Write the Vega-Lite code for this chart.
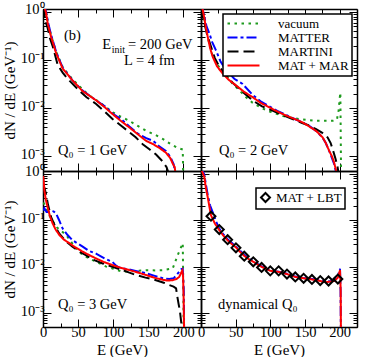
{
"$schema":"https://vega.github.io/schema/vega-lite/v6.json",
"padding":{"left":2,"top":1,"right":5,"bottom":0},
"datasets":{
"curves":[
{"p":1,"m":"vacuum","E":1,"v":1.4},{"p":1,"m":"vacuum","E":2,"v":1.25},{"p":1,"m":"vacuum","E":4.5,"v":0.95},{"p":1,"m":"vacuum","E":7,"v":0.6},{"p":1,"m":"vacuum","E":11.4,"v":0.33},{"p":1,"m":"vacuum","E":18.6,"v":0.15},{"p":1,"m":"vacuum","E":28,"v":0.072},{"p":1,"m":"vacuum","E":42,"v":0.04},{"p":1,"m":"vacuum","E":56,"v":0.025},{"p":1,"m":"vacuum","E":66,"v":0.0185},{"p":1,"m":"vacuum","E":80,"v":0.0135},{"p":1,"m":"vacuum","E":99,"v":0.0083},{"p":1,"m":"vacuum","E":110,"v":0.0068},{"p":1,"m":"vacuum","E":123,"v":0.0055},{"p":1,"m":"vacuum","E":135,"v":0.0043},{"p":1,"m":"vacuum","E":147,"v":0.0034},{"p":1,"m":"vacuum","E":160,"v":0.0028},{"p":1,"m":"vacuum","E":171,"v":0.0023},{"p":1,"m":"vacuum","E":182,"v":0.0018},{"p":1,"m":"vacuum","E":192,"v":0.0015},{"p":1,"m":"vacuum","E":199,"v":0.0014},{"p":1,"m":"vacuum","E":200.5,"v":0.0001},
{"p":1,"m":"MATTER","E":1,"v":1.4},{"p":1,"m":"MATTER","E":2,"v":1.3},{"p":1,"m":"MATTER","E":4.5,"v":1.0},{"p":1,"m":"MATTER","E":7,"v":0.62},{"p":1,"m":"MATTER","E":11.4,"v":0.34},{"p":1,"m":"MATTER","E":18.6,"v":0.15},{"p":1,"m":"MATTER","E":28,"v":0.07},{"p":1,"m":"MATTER","E":42,"v":0.038},{"p":1,"m":"MATTER","E":56,"v":0.0235},{"p":1,"m":"MATTER","E":76,"v":0.0145},{"p":1,"m":"MATTER","E":90,"v":0.0105},{"p":1,"m":"MATTER","E":99,"v":0.0078},{"p":1,"m":"MATTER","E":105,"v":0.0068},{"p":1,"m":"MATTER","E":110,"v":0.0062},{"p":1,"m":"MATTER","E":123,"v":0.0042},{"p":1,"m":"MATTER","E":135,"v":0.003},{"p":1,"m":"MATTER","E":147,"v":0.0024},{"p":1,"m":"MATTER","E":157,"v":0.0021},{"p":1,"m":"MATTER","E":166,"v":0.0016},{"p":1,"m":"MATTER","E":175,"v":0.0013},{"p":1,"m":"MATTER","E":181,"v":0.001},{"p":1,"m":"MATTER","E":186,"v":0.0007},{"p":1,"m":"MATTER","E":189,"v":0.0004},{"p":1,"m":"MATTER","E":190,"v":0.0001},
{"p":1,"m":"MARTINI","E":1,"v":1.3},{"p":1,"m":"MARTINI","E":2,"v":0.9},{"p":1,"m":"MARTINI","E":4,"v":0.6},{"p":1,"m":"MARTINI","E":6.7,"v":0.46},{"p":1,"m":"MARTINI","E":10,"v":0.28},{"p":1,"m":"MARTINI","E":14,"v":0.19},{"p":1,"m":"MARTINI","E":21,"v":0.079},{"p":1,"m":"MARTINI","E":28,"v":0.055},{"p":1,"m":"MARTINI","E":35,"v":0.041},{"p":1,"m":"MARTINI","E":52,"v":0.023},{"p":1,"m":"MARTINI","E":62,"v":0.017},{"p":1,"m":"MARTINI","E":75.7,"v":0.0123},{"p":1,"m":"MARTINI","E":88,"v":0.0085},{"p":1,"m":"MARTINI","E":99,"v":0.006},{"p":1,"m":"MARTINI","E":110,"v":0.0045},{"p":1,"m":"MARTINI","E":123,"v":0.0032},{"p":1,"m":"MARTINI","E":132,"v":0.0025},{"p":1,"m":"MARTINI","E":142,"v":0.0018},{"p":1,"m":"MARTINI","E":152,"v":0.0014},{"p":1,"m":"MARTINI","E":161,"v":0.0011},{"p":1,"m":"MARTINI","E":170,"v":0.0008},{"p":1,"m":"MARTINI","E":176,"v":0.0006},{"p":1,"m":"MARTINI","E":180,"v":0.0004},{"p":1,"m":"MARTINI","E":182,"v":0.0001},
{"p":1,"m":"MAT + MAR","E":1,"v":1.4},{"p":1,"m":"MAT + MAR","E":2,"v":1.3},{"p":1,"m":"MAT + MAR","E":4.3,"v":0.95},{"p":1,"m":"MAT + MAR","E":7,"v":0.55},{"p":1,"m":"MAT + MAR","E":11.4,"v":0.31},{"p":1,"m":"MAT + MAR","E":18.6,"v":0.14},{"p":1,"m":"MAT + MAR","E":28,"v":0.067},{"p":1,"m":"MAT + MAR","E":42,"v":0.038},{"p":1,"m":"MAT + MAR","E":56,"v":0.023},{"p":1,"m":"MAT + MAR","E":76,"v":0.0145},{"p":1,"m":"MAT + MAR","E":88,"v":0.0105},{"p":1,"m":"MAT + MAR","E":99,"v":0.0076},{"p":1,"m":"MAT + MAR","E":110,"v":0.0056},{"p":1,"m":"MAT + MAR","E":123,"v":0.004},{"p":1,"m":"MAT + MAR","E":135,"v":0.0029},{"p":1,"m":"MAT + MAR","E":147,"v":0.0021},{"p":1,"m":"MAT + MAR","E":157,"v":0.0018},{"p":1,"m":"MAT + MAR","E":166,"v":0.0015},{"p":1,"m":"MAT + MAR","E":175,"v":0.0012},{"p":1,"m":"MAT + MAR","E":181,"v":0.00094},{"p":1,"m":"MAT + MAR","E":185,"v":0.0007},{"p":1,"m":"MAT + MAR","E":187.6,"v":0.0006},{"p":1,"m":"MAT + MAR","E":189,"v":0.0004},{"p":1,"m":"MAT + MAR","E":190,"v":0.0001},

{"p":2,"m":"vacuum","E":1,"v":1.4},{"p":2,"m":"vacuum","E":2,"v":1.2},{"p":2,"m":"vacuum","E":4.8,"v":0.7},{"p":2,"m":"vacuum","E":9.6,"v":0.3},{"p":2,"m":"vacuum","E":16.8,"v":0.12},{"p":2,"m":"vacuum","E":25,"v":0.075},{"p":2,"m":"vacuum","E":36,"v":0.05},{"p":2,"m":"vacuum","E":45,"v":0.033},{"p":2,"m":"vacuum","E":55,"v":0.024},{"p":2,"m":"vacuum","E":65,"v":0.017},{"p":2,"m":"vacuum","E":74.5,"v":0.013},{"p":2,"m":"vacuum","E":88,"v":0.01},{"p":2,"m":"vacuum","E":100,"v":0.0085},{"p":2,"m":"vacuum","E":120,"v":0.0068},{"p":2,"m":"vacuum","E":141.6,"v":0.006},{"p":2,"m":"vacuum","E":166,"v":0.0055},{"p":2,"m":"vacuum","E":190,"v":0.0055},{"p":2,"m":"vacuum","E":196,"v":0.0058},{"p":2,"m":"vacuum","E":198.5,"v":0.009},{"p":2,"m":"vacuum","E":200,"v":0.016},{"p":2,"m":"vacuum","E":201,"v":0.021},{"p":2,"m":"vacuum","E":201.8,"v":0.001},{"p":2,"m":"vacuum","E":202.2,"v":0.0001},
{"p":2,"m":"MATTER","E":1,"v":1.4},{"p":2,"m":"MATTER","E":2,"v":1.2},{"p":2,"m":"MATTER","E":4.8,"v":0.8},{"p":2,"m":"MATTER","E":8,"v":0.5},{"p":2,"m":"MATTER","E":12,"v":0.36},{"p":2,"m":"MATTER","E":16,"v":0.24},{"p":2,"m":"MATTER","E":21.6,"v":0.16},{"p":2,"m":"MATTER","E":28,"v":0.095},{"p":2,"m":"MATTER","E":36,"v":0.062},{"p":2,"m":"MATTER","E":48,"v":0.041},{"p":2,"m":"MATTER","E":60,"v":0.032},{"p":2,"m":"MATTER","E":74.5,"v":0.019},{"p":2,"m":"MATTER","E":86,"v":0.014},{"p":2,"m":"MATTER","E":98.5,"v":0.011},{"p":2,"m":"MATTER","E":110,"v":0.0088},{"p":2,"m":"MATTER","E":122.5,"v":0.0073},{"p":2,"m":"MATTER","E":135,"v":0.006},{"p":2,"m":"MATTER","E":146.5,"v":0.0051},{"p":2,"m":"MATTER","E":156,"v":0.0043},{"p":2,"m":"MATTER","E":166,"v":0.0034},{"p":2,"m":"MATTER","E":175,"v":0.0025},{"p":2,"m":"MATTER","E":180,"v":0.0019},{"p":2,"m":"MATTER","E":185,"v":0.0013},{"p":2,"m":"MATTER","E":192,"v":0.0007},{"p":2,"m":"MATTER","E":196,"v":0.0004},{"p":2,"m":"MATTER","E":198,"v":0.0001},
{"p":2,"m":"MARTINI","E":1,"v":1.2},{"p":2,"m":"MARTINI","E":2,"v":0.9},{"p":2,"m":"MARTINI","E":4.8,"v":0.59},{"p":2,"m":"MARTINI","E":9,"v":0.33},{"p":2,"m":"MARTINI","E":14.4,"v":0.19},{"p":2,"m":"MARTINI","E":20,"v":0.11},{"p":2,"m":"MARTINI","E":26.4,"v":0.073},{"p":2,"m":"MARTINI","E":35,"v":0.05},{"p":2,"m":"MARTINI","E":45.6,"v":0.034},{"p":2,"m":"MARTINI","E":60,"v":0.022},{"p":2,"m":"MARTINI","E":74.5,"v":0.0145},{"p":2,"m":"MARTINI","E":88,"v":0.011},{"p":2,"m":"MARTINI","E":103,"v":0.009},{"p":2,"m":"MARTINI","E":117,"v":0.0073},{"p":2,"m":"MARTINI","E":132,"v":0.006},{"p":2,"m":"MARTINI","E":145,"v":0.005},{"p":2,"m":"MARTINI","E":156,"v":0.0044},{"p":2,"m":"MARTINI","E":166,"v":0.0037},{"p":2,"m":"MARTINI","E":175,"v":0.0031},{"p":2,"m":"MARTINI","E":182.5,"v":0.0025},{"p":2,"m":"MARTINI","E":187,"v":0.0019},{"p":2,"m":"MARTINI","E":190,"v":0.0014},{"p":2,"m":"MARTINI","E":194,"v":0.0009},{"p":2,"m":"MARTINI","E":197,"v":0.0006},{"p":2,"m":"MARTINI","E":199,"v":0.0004},{"p":2,"m":"MARTINI","E":200,"v":0.0001},
{"p":2,"m":"MAT + MAR","E":1,"v":1.4},{"p":2,"m":"MAT + MAR","E":2,"v":1.2},{"p":2,"m":"MAT + MAR","E":4.8,"v":0.75},{"p":2,"m":"MAT + MAR","E":7,"v":0.48},{"p":2,"m":"MAT + MAR","E":9.6,"v":0.31},{"p":2,"m":"MAT + MAR","E":13,"v":0.18},{"p":2,"m":"MAT + MAR","E":16.8,"v":0.118},{"p":2,"m":"MAT + MAR","E":23,"v":0.075},{"p":2,"m":"MAT + MAR","E":31,"v":0.053},{"p":2,"m":"MAT + MAR","E":40,"v":0.039},{"p":2,"m":"MAT + MAR","E":50.4,"v":0.03},{"p":2,"m":"MAT + MAR","E":62,"v":0.022},{"p":2,"m":"MAT + MAR","E":74.5,"v":0.017},{"p":2,"m":"MAT + MAR","E":86,"v":0.013},{"p":2,"m":"MAT + MAR","E":98.5,"v":0.0105},{"p":2,"m":"MAT + MAR","E":110,"v":0.0086},{"p":2,"m":"MAT + MAR","E":122.5,"v":0.0071},{"p":2,"m":"MAT + MAR","E":135,"v":0.006},{"p":2,"m":"MAT + MAR","E":146.5,"v":0.0051},{"p":2,"m":"MAT + MAR","E":156,"v":0.0042},{"p":2,"m":"MAT + MAR","E":166,"v":0.0034},{"p":2,"m":"MAT + MAR","E":175.4,"v":0.0025},{"p":2,"m":"MAT + MAR","E":180,"v":0.0019},{"p":2,"m":"MAT + MAR","E":185,"v":0.0013},{"p":2,"m":"MAT + MAR","E":189,"v":0.001},{"p":2,"m":"MAT + MAR","E":192,"v":0.00075},{"p":2,"m":"MAT + MAR","E":195,"v":0.0005},{"p":2,"m":"MAT + MAR","E":197,"v":0.0004},{"p":2,"m":"MAT + MAR","E":198,"v":0.0001},

{"p":3,"m":"vacuum","E":0.3,"v":0.24},{"p":3,"m":"vacuum","E":2,"v":0.22},{"p":3,"m":"vacuum","E":5,"v":0.17},{"p":3,"m":"vacuum","E":11,"v":0.11},{"p":3,"m":"vacuum","E":20,"v":0.07},{"p":3,"m":"vacuum","E":33,"v":0.048},{"p":3,"m":"vacuum","E":45,"v":0.027},{"p":3,"m":"vacuum","E":56.5,"v":0.0177},{"p":3,"m":"vacuum","E":70,"v":0.014},{"p":3,"m":"vacuum","E":90,"v":0.01},{"p":3,"m":"vacuum","E":100,"v":0.009},{"p":3,"m":"vacuum","E":113.5,"v":0.0078},{"p":3,"m":"vacuum","E":130,"v":0.008},{"p":3,"m":"vacuum","E":146.7,"v":0.0084},{"p":3,"m":"vacuum","E":160,"v":0.0083},{"p":3,"m":"vacuum","E":170.5,"v":0.0084},{"p":3,"m":"vacuum","E":184.7,"v":0.0091},{"p":3,"m":"vacuum","E":192,"v":0.018},{"p":3,"m":"vacuum","E":196,"v":0.025},{"p":3,"m":"vacuum","E":199,"v":0.032},{"p":3,"m":"vacuum","E":200,"v":0.002},{"p":3,"m":"vacuum","E":200.5,"v":0.0001},
{"p":3,"m":"MATTER","E":1,"v":0.16},{"p":3,"m":"MATTER","E":2,"v":0.18},{"p":3,"m":"MATTER","E":5,"v":0.15},{"p":3,"m":"MATTER","E":8,"v":0.15},{"p":3,"m":"MATTER","E":11.4,"v":0.16},{"p":3,"m":"MATTER","E":15,"v":0.155},{"p":3,"m":"MATTER","E":18.5,"v":0.14},{"p":3,"m":"MATTER","E":23,"v":0.1},{"p":3,"m":"MATTER","E":28,"v":0.066},{"p":3,"m":"MATTER","E":35,"v":0.048},{"p":3,"m":"MATTER","E":42,"v":0.037},{"p":3,"m":"MATTER","E":56.5,"v":0.027},{"p":3,"m":"MATTER","E":65,"v":0.022},{"p":3,"m":"MATTER","E":75.5,"v":0.019},{"p":3,"m":"MATTER","E":88,"v":0.015},{"p":3,"m":"MATTER","E":99,"v":0.0126},{"p":3,"m":"MATTER","E":104,"v":0.0105},{"p":3,"m":"MATTER","E":107,"v":0.0098},{"p":3,"m":"MATTER","E":112,"v":0.0092},{"p":3,"m":"MATTER","E":123,"v":0.0087},{"p":3,"m":"MATTER","E":135,"v":0.0079},{"p":3,"m":"MATTER","E":146.7,"v":0.0072},{"p":3,"m":"MATTER","E":158,"v":0.0064},{"p":3,"m":"MATTER","E":170.5,"v":0.0056},{"p":3,"m":"MATTER","E":180,"v":0.0054},{"p":3,"m":"MATTER","E":186,"v":0.0056},{"p":3,"m":"MATTER","E":191,"v":0.0068},{"p":3,"m":"MATTER","E":194,"v":0.0078},{"p":3,"m":"MATTER","E":197,"v":0.0088},{"p":3,"m":"MATTER","E":199,"v":0.009},{"p":3,"m":"MATTER","E":200.5,"v":0.003},{"p":3,"m":"MATTER","E":201.3,"v":0.0001},
{"p":3,"m":"MARTINI","E":0.3,"v":0.6},{"p":3,"m":"MARTINI","E":2,"v":0.5},{"p":3,"m":"MARTINI","E":4.3,"v":0.37},{"p":3,"m":"MARTINI","E":7,"v":0.22},{"p":3,"m":"MARTINI","E":11.4,"v":0.118},{"p":3,"m":"MARTINI","E":17,"v":0.075},{"p":3,"m":"MARTINI","E":23,"v":0.052},{"p":3,"m":"MARTINI","E":32,"v":0.036},{"p":3,"m":"MARTINI","E":42,"v":0.027},{"p":3,"m":"MARTINI","E":52,"v":0.021},{"p":3,"m":"MARTINI","E":61,"v":0.0177},{"p":3,"m":"MARTINI","E":72,"v":0.014},{"p":3,"m":"MARTINI","E":85,"v":0.0117},{"p":3,"m":"MARTINI","E":100,"v":0.0098},{"p":3,"m":"MARTINI","E":113.5,"v":0.0084},{"p":3,"m":"MARTINI","E":122,"v":0.0075},{"p":3,"m":"MARTINI","E":132.5,"v":0.0066},{"p":3,"m":"MARTINI","E":146,"v":0.0058},{"p":3,"m":"MARTINI","E":161,"v":0.0051},{"p":3,"m":"MARTINI","E":172,"v":0.0045},{"p":3,"m":"MARTINI","E":180,"v":0.004},{"p":3,"m":"MARTINI","E":186,"v":0.0037},{"p":3,"m":"MARTINI","E":189.5,"v":0.0034},{"p":3,"m":"MARTINI","E":191,"v":0.0024},{"p":3,"m":"MARTINI","E":193,"v":0.0016},{"p":3,"m":"MARTINI","E":195,"v":0.0011},{"p":3,"m":"MARTINI","E":197,"v":0.0006},{"p":3,"m":"MARTINI","E":198,"v":0.0001},
{"p":3,"m":"MAT + MAR","E":0.3,"v":0.9},{"p":3,"m":"MAT + MAR","E":1,"v":0.7},{"p":3,"m":"MAT + MAR","E":1.9,"v":0.44},{"p":3,"m":"MAT + MAR","E":4,"v":0.28},{"p":3,"m":"MAT + MAR","E":6.6,"v":0.19},{"p":3,"m":"MAT + MAR","E":10,"v":0.12},{"p":3,"m":"MAT + MAR","E":13.8,"v":0.085},{"p":3,"m":"MAT + MAR","E":18,"v":0.063},{"p":3,"m":"MAT + MAR","E":23.3,"v":0.048},{"p":3,"m":"MAT + MAR","E":30,"v":0.038},{"p":3,"m":"MAT + MAR","E":37.5,"v":0.032},{"p":3,"m":"MAT + MAR","E":46,"v":0.026},{"p":3,"m":"MAT + MAR","E":56.5,"v":0.021},{"p":3,"m":"MAT + MAR","E":65,"v":0.018},{"p":3,"m":"MAT + MAR","E":75.5,"v":0.015},{"p":3,"m":"MAT + MAR","E":87,"v":0.0125},{"p":3,"m":"MAT + MAR","E":99,"v":0.0108},{"p":3,"m":"MAT + MAR","E":110,"v":0.0095},{"p":3,"m":"MAT + MAR","E":123,"v":0.0084},{"p":3,"m":"MAT + MAR","E":135,"v":0.0075},{"p":3,"m":"MAT + MAR","E":146.7,"v":0.0066},{"p":3,"m":"MAT + MAR","E":158,"v":0.0058},{"p":3,"m":"MAT + MAR","E":170.5,"v":0.0052},{"p":3,"m":"MAT + MAR","E":178,"v":0.005},{"p":3,"m":"MAT + MAR","E":184.7,"v":0.0051},{"p":3,"m":"MAT + MAR","E":190,"v":0.0054},{"p":3,"m":"MAT + MAR","E":194,"v":0.006},{"p":3,"m":"MAT + MAR","E":197,"v":0.0075},{"p":3,"m":"MAT + MAR","E":198.5,"v":0.0083},{"p":3,"m":"MAT + MAR","E":199.5,"v":0.006},{"p":3,"m":"MAT + MAR","E":200.3,"v":0.002},{"p":3,"m":"MAT + MAR","E":201,"v":0.0003},{"p":3,"m":"MAT + MAR","E":201.5,"v":0.0001},

{"p":4,"m":"MATTER","E":0.5,"v":1.4},{"p":4,"m":"MATTER","E":2,"v":1.2},{"p":4,"m":"MATTER","E":4.8,"v":0.95},{"p":4,"m":"MATTER","E":7,"v":0.6},{"p":4,"m":"MATTER","E":9.6,"v":0.36},{"p":4,"m":"MATTER","E":13,"v":0.21},{"p":4,"m":"MATTER","E":16.8,"v":0.15},{"p":4,"m":"MATTER","E":21,"v":0.1},{"p":4,"m":"MATTER","E":26.4,"v":0.066},{"p":4,"m":"MATTER","E":32,"v":0.05},{"p":4,"m":"MATTER","E":38.4,"v":0.039},{"p":4,"m":"MATTER","E":50.4,"v":0.027},{"p":4,"m":"MATTER","E":62.4,"v":0.018},{"p":4,"m":"MATTER","E":75.4,"v":0.013},{"p":4,"m":"MATTER","E":87.4,"v":0.0101},{"p":4,"m":"MATTER","E":99.9,"v":0.0083},{"p":4,"m":"MATTER","E":112,"v":0.0078},{"p":4,"m":"MATTER","E":124,"v":0.007},{"p":4,"m":"MATTER","E":136,"v":0.0061},{"p":4,"m":"MATTER","E":148,"v":0.0057},{"p":4,"m":"MATTER","E":160,"v":0.0054},{"p":4,"m":"MATTER","E":172,"v":0.005},{"p":4,"m":"MATTER","E":184,"v":0.0048},{"p":4,"m":"MATTER","E":192,"v":0.005},{"p":4,"m":"MATTER","E":197,"v":0.006},{"p":4,"m":"MATTER","E":200.5,"v":0.009},{"p":4,"m":"MATTER","E":201.3,"v":0.003},{"p":4,"m":"MATTER","E":202,"v":0.0001},
{"p":4,"m":"MAT + MAR","E":0.5,"v":1.3},{"p":4,"m":"MAT + MAR","E":2,"v":1.1},{"p":4,"m":"MAT + MAR","E":4.8,"v":0.85},{"p":4,"m":"MAT + MAR","E":7,"v":0.5},{"p":4,"m":"MAT + MAR","E":9.6,"v":0.32},{"p":4,"m":"MAT + MAR","E":12,"v":0.2},{"p":4,"m":"MAT + MAR","E":14.4,"v":0.128},{"p":4,"m":"MAT + MAR","E":20,"v":0.085},{"p":4,"m":"MAT + MAR","E":26.4,"v":0.061},{"p":4,"m":"MAT + MAR","E":32,"v":0.047},{"p":4,"m":"MAT + MAR","E":38.4,"v":0.037},{"p":4,"m":"MAT + MAR","E":44,"v":0.031},{"p":4,"m":"MAT + MAR","E":50.4,"v":0.026},{"p":4,"m":"MAT + MAR","E":56,"v":0.021},{"p":4,"m":"MAT + MAR","E":62.4,"v":0.017},{"p":4,"m":"MAT + MAR","E":69,"v":0.0145},{"p":4,"m":"MAT + MAR","E":75.4,"v":0.0127},{"p":4,"m":"MAT + MAR","E":87.4,"v":0.0099},{"p":4,"m":"MAT + MAR","E":99.9,"v":0.0081},{"p":4,"m":"MAT + MAR","E":112,"v":0.0077},{"p":4,"m":"MAT + MAR","E":124,"v":0.0069},{"p":4,"m":"MAT + MAR","E":136,"v":0.006},{"p":4,"m":"MAT + MAR","E":148,"v":0.0056},{"p":4,"m":"MAT + MAR","E":160,"v":0.0053},{"p":4,"m":"MAT + MAR","E":172,"v":0.0049},{"p":4,"m":"MAT + MAR","E":180,"v":0.0046},{"p":4,"m":"MAT + MAR","E":184,"v":0.0047},{"p":4,"m":"MAT + MAR","E":192,"v":0.0049},{"p":4,"m":"MAT + MAR","E":197.4,"v":0.0058},{"p":4,"m":"MAT + MAR","E":200.5,"v":0.0084},{"p":4,"m":"MAT + MAR","E":201.5,"v":0.003},{"p":4,"m":"MAT + MAR","E":202,"v":0.0001}
],
"lbt":[
{"s":"MAT + LBT","E":14.4,"v":0.122},{"s":"MAT + LBT","E":26.4,"v":0.063},{"s":"MAT + LBT","E":38.4,"v":0.038},{"s":"MAT + LBT","E":50.4,"v":0.0254},{"s":"MAT + LBT","E":62.4,"v":0.0168},{"s":"MAT + LBT","E":75.4,"v":0.0127},{"s":"MAT + LBT","E":87.4,"v":0.0096},{"s":"MAT + LBT","E":99.9,"v":0.0081},{"s":"MAT + LBT","E":112,"v":0.0081},{"s":"MAT + LBT","E":124,"v":0.0069},{"s":"MAT + LBT","E":136,"v":0.006},{"s":"MAT + LBT","E":148,"v":0.0056},{"s":"MAT + LBT","E":160,"v":0.0053},{"s":"MAT + LBT","E":172,"v":0.005},{"s":"MAT + LBT","E":184,"v":0.0049},{"s":"MAT + LBT","E":197.4,"v":0.0054}
],
"notes":[
{"p":1,"t":"(b)","E":29.9,"v":0.314},
{"p":1,"t":"= 200 GeV","E":121.1,"v":0.203},
{"p":1,"t":"L = 4 fm","E":115.4,"v":0.094},
{"p":1,"t":"Q₀ = 1 GeV","E":21.4,"v":0.00128},
{"p":2,"t":"Q₀ = 2 GeV","E":25.9,"v":0.00128},
{"p":3,"t":"Q₀ = 3 GeV","E":21.4,"v":0.00149},
{"p":4,"t":"dynamical Q₀","E":24.5,"v":0.00149}
],
"einit":[{"E":121.1,"v":0.203,"a":"E","b":"init"}]
},
"concat":[
{
"width":158,"height":162,
"layer":[
{"data":{"name":"curves"},"transform":[{"filter":"datum.p === 1"}],
 "mark":{"type":"line","clip":true,"strokeWidth":2},
 "encoding":{
  "x":{"field":"E","type":"quantitative","scale":{"domain":[0,225],"nice":false,"zero":false},
   "axis":{"orient":"bottom","values":[0,25,50,75,100,125,150,175,200,225],"tickSize":{"condition":{"test":"datum.value % 50 === 0","value":-8},"value":-4},"labels":false,"title":null}},
  "y":{"field":"v","type":"quantitative","scale":{"type":"log","domain":[0.0005,1.15],"nice":false},
   "axis":{"orient":"left","values":[0.0005,0.0006,0.0007,0.0008,0.0009,0.001,0.002,0.003,0.004,0.005,0.006,0.007,0.008,0.009,0.01,0.02,0.03,0.04,0.05,0.06,0.07,0.08,0.09,0.1,0.2,0.3,0.4,0.5,0.6,0.7,0.8,0.9,1],
    "tickSize":{"condition":{"test":"datum.value === 1 || datum.value === 0.1 || datum.value === 0.01 || datum.value === 0.001","value":-8},"value":-4},
    "labelExpr":"datum.value === 1 ? '10⁰' : datum.value === 0.1 ? '10⁻¹' : datum.value === 0.01 ? '10⁻²' : datum.value === 0.001 ? '10⁻³' : ''","labelPadding":7,"labelOffset":-2,"title":"dN / dE (GeV⁻¹)","titlePadding":3}},
  "color":{"field":"m","type":"nominal","scale":{"domain":["vacuum","MATTER","MARTINI","MAT + MAR"],"range":["#1e9a1e","#0000ff","#000000","#ff0000"]},"legend":null},
  "strokeDash":{"field":"m","type":"nominal","scale":{"domain":["vacuum","MATTER","MARTINI","MAT + MAR"],"range":[[2.5,4.5],[10,3,3,3],[11,5],[1,0]]},"legend":null}
 }},
{"data":{"name":"notes"},"transform":[{"filter":"datum.p === 1"}],
 "mark":{"type":"text","align":"left","baseline":"middle","fontSize":14.5,"font":"Liberation Serif"},
 "encoding":{
  "x":{"field":"E","type":"quantitative","axis":{"orient":"top","values":[0,25,50,75,100,125,150,175,200,225],"tickSize":{"condition":{"test":"datum.value % 50 === 0","value":-8},"value":-4},"labels":false,"title":null}},
  "y":{"field":"v","type":"quantitative","axis":{"orient":"right","values":[0.0005,0.0006,0.0007,0.0008,0.0009,0.001,0.002,0.003,0.004,0.005,0.006,0.007,0.008,0.009,0.01,0.02,0.03,0.04,0.05,0.06,0.07,0.08,0.09,0.1,0.2,0.3,0.4,0.5,0.6,0.7,0.8,0.9,1],"tickSize":{"condition":{"test":"datum.value === 1 || datum.value === 0.1 || datum.value === 0.01 || datum.value === 0.001","value":-8},"value":-4},"labels":false,"title":null}},
  "text":{"field":"t"}
 }},
{"data":{"name":"einit"},
 "mark":{"type":"text","align":"right","baseline":"middle","fontSize":14.5,"font":"Liberation Serif","dx":-17},
 "encoding":{"x":{"field":"E","type":"quantitative","axis":null},"y":{"field":"v","type":"quantitative","axis":null},"text":{"field":"a"}}},
{"data":{"name":"einit"},
 "mark":{"type":"text","align":"right","baseline":"middle","fontSize":10,"font":"Liberation Serif","dx":-3,"dy":5},
 "encoding":{"x":{"field":"E","type":"quantitative","axis":null},"y":{"field":"v","type":"quantitative","axis":null},"text":{"field":"b"}}}
],
"resolve":{"axis":{"x":"independent","y":"independent"}}
},
{
"width":156,"height":162,
"layer":[
{"data":{"name":"curves"},"transform":[{"filter":"datum.p === 2"}],
 "mark":{"type":"line","clip":true,"strokeWidth":2},
 "encoding":{
  "x":{"field":"E","type":"quantitative","scale":{"domain":[0,225],"nice":false,"zero":false},
   "axis":{"orient":"bottom","values":[0,25,50,75,100,125,150,175,200,225],"tickSize":{"condition":{"test":"datum.value % 50 === 0","value":-8},"value":-4},"labels":false,"title":null}},
  "y":{"field":"v","type":"quantitative","scale":{"type":"log","domain":[0.0005,1.15],"nice":false},
   "axis":{"orient":"left","values":[0.0005,0.0006,0.0007,0.0008,0.0009,0.001,0.002,0.003,0.004,0.005,0.006,0.007,0.008,0.009,0.01,0.02,0.03,0.04,0.05,0.06,0.07,0.08,0.09,0.1,0.2,0.3,0.4,0.5,0.6,0.7,0.8,0.9,1],"tickSize":{"condition":{"test":"datum.value === 1 || datum.value === 0.1 || datum.value === 0.01 || datum.value === 0.001","value":-8},"value":-4},"labels":false,"title":null}},
  "color":{"field":"m","type":"nominal","scale":{"domain":["vacuum","MATTER","MARTINI","MAT + MAR"],"range":["#1e9a1e","#0000ff","#000000","#ff0000"]},
   "legend":{"title":null,"orient":"top-right","offset":5,"symbolType":"M-3.2,0L3.2,0","symbolSize":100,"symbolStrokeWidth":2.2,"symbolOffset":11,"labelOffset":28,"labelFontSize":13,"labelFont":"Liberation Serif","labelColor":"black","strokeColor":"black","fillColor":"white","padding":3,"rowPadding":0}},
  "strokeDash":{"field":"m","type":"nominal","scale":{"domain":["vacuum","MATTER","MARTINI","MAT + MAR"],"range":[[2.5,4.5],[10,3,3,3],[11,5],[1,0]]},
   "legend":{"title":null,"orient":"top-right","offset":5,"symbolType":"M-3.2,0L3.2,0","symbolSize":100,"symbolStrokeWidth":2.2,"symbolOffset":11,"labelOffset":28,"labelFontSize":13,"labelFont":"Liberation Serif","labelColor":"black","strokeColor":"black","fillColor":"white","padding":3,"rowPadding":0}}
 }},
{"data":{"name":"notes"},"transform":[{"filter":"datum.p === 2"}],
 "mark":{"type":"text","align":"left","baseline":"middle","fontSize":14.5,"font":"Liberation Serif"},
 "encoding":{
  "x":{"field":"E","type":"quantitative","axis":{"orient":"top","values":[0,25,50,75,100,125,150,175,200,225],"tickSize":{"condition":{"test":"datum.value % 50 === 0","value":-8},"value":-4},"labels":false,"title":null}},
  "y":{"field":"v","type":"quantitative","axis":{"orient":"right","values":[0.0005,0.0006,0.0007,0.0008,0.0009,0.001,0.002,0.003,0.004,0.005,0.006,0.007,0.008,0.009,0.01,0.02,0.03,0.04,0.05,0.06,0.07,0.08,0.09,0.1,0.2,0.3,0.4,0.5,0.6,0.7,0.8,0.9,1],"tickSize":{"condition":{"test":"datum.value === 1 || datum.value === 0.1 || datum.value === 0.01 || datum.value === 0.001","value":-8},"value":-4},"labels":false,"title":null}},
  "text":{"field":"t"}
 }}
],
"resolve":{"axis":{"x":"independent","y":"independent"}}
},
{
"width":158,"height":156,
"layer":[
{"data":{"name":"curves"},"transform":[{"filter":"datum.p === 3"}],
 "mark":{"type":"line","clip":true,"strokeWidth":2},
 "encoding":{
  "x":{"field":"E","type":"quantitative","scale":{"domain":[0,225],"nice":false,"zero":false},
   "axis":{"orient":"bottom","values":[0,25,50,75,100,125,150,175,200,225],"tickSize":{"condition":{"test":"datum.value % 50 === 0","value":-8},"value":-4},"format":"d","labelExpr":"datum.value % 50 === 0 && datum.value <= 200 ? datum.label : ''","labelPadding":6,"title":"E (GeV)","titlePadding":0}},
  "y":{"field":"v","type":"quantitative","scale":{"type":"log","domain":[0.0005,1.15],"nice":false},
   "axis":{"orient":"left","values":[0.0005,0.0006,0.0007,0.0008,0.0009,0.001,0.002,0.003,0.004,0.005,0.006,0.007,0.008,0.009,0.01,0.02,0.03,0.04,0.05,0.06,0.07,0.08,0.09,0.1,0.2,0.3,0.4,0.5,0.6,0.7,0.8,0.9,1],
    "tickSize":{"condition":{"test":"datum.value === 1 || datum.value === 0.1 || datum.value === 0.01 || datum.value === 0.001","value":-8},"value":-4},
    "labelExpr":"datum.value === 1 ? '10⁰' : datum.value === 0.1 ? '10⁻¹' : datum.value === 0.01 ? '10⁻²' : datum.value === 0.001 ? '10⁻³' : ''","labelPadding":7,"labelOffset":-2,"title":"dN / dE (GeV⁻¹)","titlePadding":3}},
  "color":{"field":"m","type":"nominal","scale":{"domain":["vacuum","MATTER","MARTINI","MAT + MAR"],"range":["#1e9a1e","#0000ff","#000000","#ff0000"]},"legend":null},
  "strokeDash":{"field":"m","type":"nominal","scale":{"domain":["vacuum","MATTER","MARTINI","MAT + MAR"],"range":[[2.5,4.5],[10,3,3,3],[11,5],[1,0]]},"legend":null}
 }},
{"data":{"name":"notes"},"transform":[{"filter":"datum.p === 3"}],
 "mark":{"type":"text","align":"left","baseline":"middle","fontSize":14.5,"font":"Liberation Serif"},
 "encoding":{
  "x":{"field":"E","type":"quantitative","axis":{"orient":"top","values":[0,25,50,75,100,125,150,175,200,225],"tickSize":{"condition":{"test":"datum.value % 50 === 0","value":-8},"value":-4},"labels":false,"title":null}},
  "y":{"field":"v","type":"quantitative","axis":{"orient":"right","values":[0.0005,0.0006,0.0007,0.0008,0.0009,0.001,0.002,0.003,0.004,0.005,0.006,0.007,0.008,0.009,0.01,0.02,0.03,0.04,0.05,0.06,0.07,0.08,0.09,0.1,0.2,0.3,0.4,0.5,0.6,0.7,0.8,0.9,1],"tickSize":{"condition":{"test":"datum.value === 1 || datum.value === 0.1 || datum.value === 0.01 || datum.value === 0.001","value":-8},"value":-4},"labels":false,"title":null}},
  "text":{"field":"t"}
 }}
],
"resolve":{"axis":{"x":"independent","y":"independent"}}
},
{
"width":156,"height":156,
"layer":[
{"data":{"name":"curves"},"transform":[{"filter":"datum.p === 4"}],
 "mark":{"type":"line","clip":true,"strokeWidth":2},
 "encoding":{
  "x":{"field":"E","type":"quantitative","scale":{"domain":[0,225],"nice":false,"zero":false},
   "axis":{"orient":"bottom","values":[0,25,50,75,100,125,150,175,200,225],"tickSize":{"condition":{"test":"datum.value % 50 === 0","value":-8},"value":-4},"format":"d","labelExpr":"datum.value % 50 === 0 && datum.value <= 200 ? datum.label : ''","labelPadding":6,"title":"E (GeV)","titlePadding":0}},
  "y":{"field":"v","type":"quantitative","scale":{"type":"log","domain":[0.0005,1.15],"nice":false},
   "axis":{"orient":"left","values":[0.0005,0.0006,0.0007,0.0008,0.0009,0.001,0.002,0.003,0.004,0.005,0.006,0.007,0.008,0.009,0.01,0.02,0.03,0.04,0.05,0.06,0.07,0.08,0.09,0.1,0.2,0.3,0.4,0.5,0.6,0.7,0.8,0.9,1],"tickSize":{"condition":{"test":"datum.value === 1 || datum.value === 0.1 || datum.value === 0.01 || datum.value === 0.001","value":-8},"value":-4},"labels":false,"title":null}},
  "color":{"field":"m","type":"nominal","scale":{"domain":["vacuum","MATTER","MARTINI","MAT + MAR"],"range":["#1e9a1e","#0000ff","#000000","#ff0000"]},"legend":null},
  "strokeDash":{"field":"m","type":"nominal","scale":{"domain":["vacuum","MATTER","MARTINI","MAT + MAR"],"range":[[2.5,4.5],[10,3,3,3],[11,5],[1,0]]},"legend":null}
 }},
{"data":{"name":"lbt"},
 "mark":{"type":"point","filled":false,"stroke":"black","strokeWidth":2,"size":80,"opacity":1,"clip":true},
 "encoding":{
  "x":{"field":"E","type":"quantitative","axis":{"orient":"top","values":[0,25,50,75,100,125,150,175,200,225],"tickSize":{"condition":{"test":"datum.value % 50 === 0","value":-8},"value":-4},"labels":false,"title":null}},
  "y":{"field":"v","type":"quantitative","axis":{"orient":"right","values":[0.0005,0.0006,0.0007,0.0008,0.0009,0.001,0.002,0.003,0.004,0.005,0.006,0.007,0.008,0.009,0.01,0.02,0.03,0.04,0.05,0.06,0.07,0.08,0.09,0.1,0.2,0.3,0.4,0.5,0.6,0.7,0.8,0.9,1],"tickSize":{"condition":{"test":"datum.value === 1 || datum.value === 0.1 || datum.value === 0.01 || datum.value === 0.001","value":-8},"value":-4},"labels":false,"title":null}},
  "shape":{"field":"s","type":"nominal","scale":{"domain":["MAT + LBT"],"range":["diamond"]},
   "legend":{"title":null,"orient":"none","legendX":55,"legendY":17,"symbolSize":80,"symbolStrokeWidth":2,"symbolStrokeColor":"black","symbolFillColor":"transparent","labelFontSize":13,"labelFont":"Liberation Serif","labelColor":"black","strokeColor":"black","fillColor":"white","padding":3}}
 }},
{"data":{"name":"notes"},"transform":[{"filter":"datum.p === 4"}],
 "mark":{"type":"text","align":"left","baseline":"middle","fontSize":14.5,"font":"Liberation Serif"},
 "encoding":{"x":{"field":"E","type":"quantitative","axis":null},"y":{"field":"v","type":"quantitative","axis":null},"text":{"field":"t"}}}
],
"resolve":{"axis":{"x":"independent","y":"independent"}}
}
],
"columns":2,
"spacing":0,
"align":"each",
"bounds":"flush",
"resolve":{"scale":{"x":"independent","y":"independent","color":"independent","strokeDash":"independent","shape":"independent"},"legend":{"color":"independent","strokeDash":"independent","shape":"independent"}},
"config":{
 "font":"Liberation Serif",
 "view":{"stroke":null},
 "axis":{"domainColor":"black","domainWidth":1.5,"tickColor":"black","tickWidth":1,"labelFont":"Liberation Serif","labelFontSize":14.5,"labelColor":"black","titleFont":"Liberation Serif","titleFontSize":15,"titleFontWeight":"normal","titleColor":"black","grid":false,"labelOverlap":false,"labelFlush":false},
 "legend":{"cornerRadius":0,"strokeWidth":1.5}
}
}
